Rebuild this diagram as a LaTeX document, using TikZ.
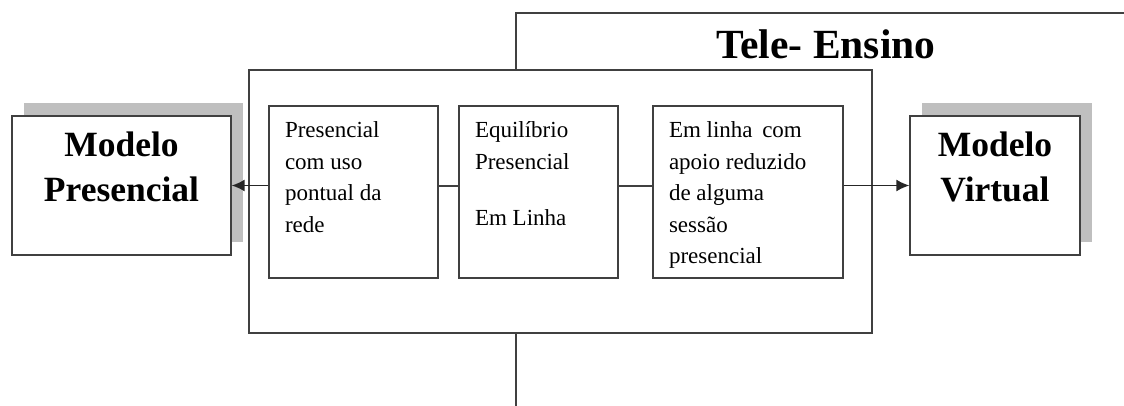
\documentclass[tikz,border=0pt]{standalone}
\usepackage{fontspec}
\setmainfont{Liberation Serif}
\usetikzlibrary{arrows.meta,shadows}
\newcommand{\boxtxt}[3]{\parbox[c][#2][t]{#1}{#3}}
\tikzset{box/.style={draw=black!75,line width=1.3pt,fill=white,inner sep=16pt},
  modelo/.style={box,drop shadow={shadow xshift=12pt,shadow yshift=13pt,fill=black!25,opacity=1},
    font=\bfseries\fontsize{35.5}{45}\selectfont},
  etapa/.style={box,font=\fontsize{23}{31.5}\selectfont}}

\begin{document}
\begin{tikzpicture}[x=1pt,y=-1pt,seta/.style={-{Latex[length=13pt,width=12pt]},line width=1.6pt,black!85},
                    liga/.style={line width=1.3pt,black!75}]
    \useasboundingbox (0,0) rectangle (1124,406);
    % moldura do tele-ensino
    \coordinate (te1) at (516,406);
    \coordinate (te2) at (1124,13);
    \draw [liga] (te1) |- (te2);
    \node [font=\bfseries\fontsize{41.5}{44}\selectfont,anchor=base] (tit) at (826,59) {Tele- Ensino};
    % caixa central
    \node [box,inner sep=0pt,minimum width=623pt,minimum height=263pt] (meio) at (560.5,201.5) {};
    \node [etapa] (b1) at (353.5,192) {\boxtxt{137pt}{140pt}{Presencial\\com uso\\pontual da\\rede}};
    \node [etapa] (b2) at (538.5,192) {\boxtxt{127pt}{140pt}{Equilíbrio\\Presencial\\[25pt]Em Linha}};
    \node [etapa] (b3) at (748,192) {\boxtxt{158pt}{140pt}{Em linha\, com\\apoio reduzido\\de alguma\\sessão\\presencial}};
    % modelos
    \node [modelo] (mp) at (121.5,185.5) {\boxtxt{187pt}{107pt}{\centering Modelo\\Presencial}};
    \node [modelo] (mv) at (995,185.5) {\boxtxt{138pt}{107pt}{\centering Modelo\\Virtual}};
    \draw [liga] ([yshift=6pt]b1.east) -- ([yshift=6pt]b2.west);
    \draw [liga] ([yshift=6pt]b2.east) -- ([yshift=6pt]b3.west);
    \draw [seta] (b1.west |- mp.east) -- (mp.east);
    \draw [seta] (b3.east |- mv.west) -- (mv.west);
\end{tikzpicture}
\end{document}
